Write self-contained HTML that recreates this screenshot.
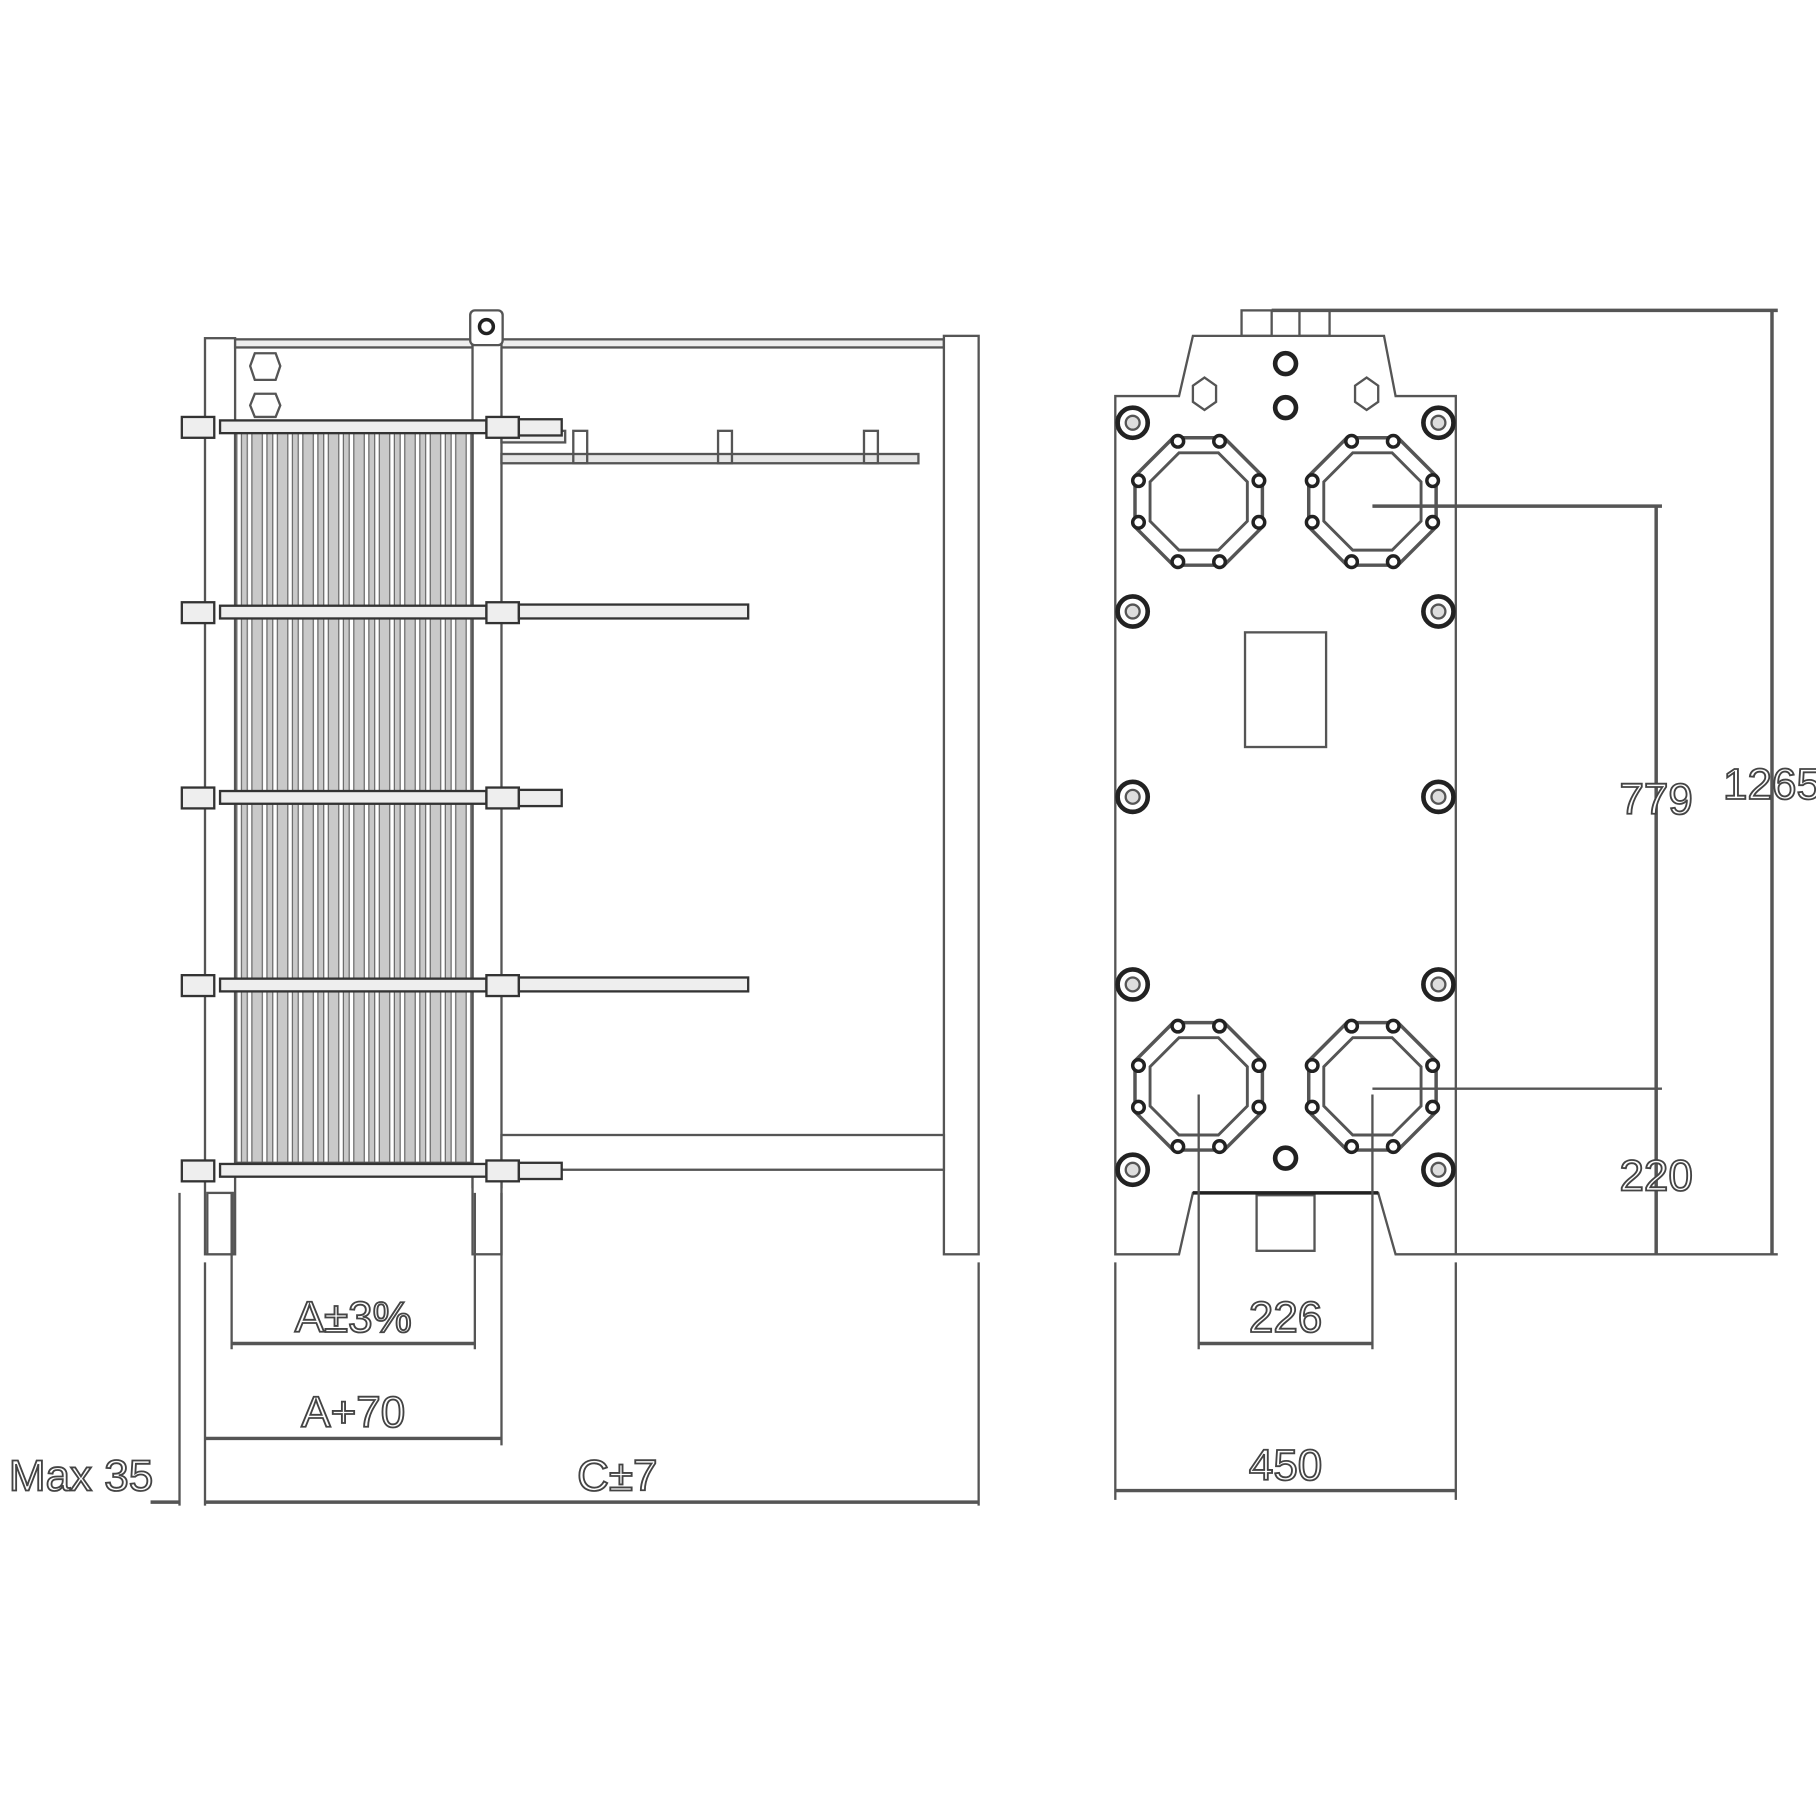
<!DOCTYPE html>
<html><head><meta charset="utf-8"><style>html,body{margin:0;padding:0;background:#fff}svg{display:block}text{font-family:"Liberation Sans",sans-serif;fill:#fff;stroke:#444;stroke-width:1.6}</style></head><body>
<svg width="1816" height="1816" viewBox="0 0 1568 1568" xmlns="http://www.w3.org/2000/svg">
<defs>
<pattern id="pl" x="203" y="0" width="22" height="10" patternUnits="userSpaceOnUse">
<rect width="22" height="10" fill="#c9c9c9"/><rect x="2" width="3" height="10" fill="#fff"/><line x1="1.5" y1="0" x2="1.5" y2="10" stroke="#666" stroke-width="1"/><line x1="5.5" y1="0" x2="5.5" y2="10" stroke="#666" stroke-width="1"/><rect x="11" width="3" height="10" fill="#fff"/><line x1="10.5" y1="0" x2="10.5" y2="10" stroke="#666"/><line x1="14.5" y1="0" x2="14.5" y2="10" stroke="#666"/>
</pattern>
<g id="bolt"><circle r="13" fill="#fff" stroke="#222" stroke-width="4"/><circle r="6" fill="#ddd" stroke="#555" stroke-width="2"/></g>
<g id="port" fill="none" stroke="#555" stroke-width="3">
<polygon points="-22,-55 22,-55 55,-22 55,22 22,55 -22,55 -55,22 -55,-22"/>
<polygon points="-17,-42 17,-42 42,-17 42,17 17,42 -17,42 -42,17 -42,-17" stroke-width="2.5"/>
<g fill="#fff" stroke="#222" stroke-width="3"><circle cx="-18" cy="-52" r="5"/><circle cx="18" cy="-52" r="5"/><circle cx="-18" cy="52" r="5"/><circle cx="18" cy="52" r="5"/><circle cx="-52" cy="-18" r="5"/><circle cx="-52" cy="18" r="5"/><circle cx="52" cy="-18" r="5"/><circle cx="52" cy="18" r="5"/></g>
</g>
</defs>
<g fill="none" stroke="#555" stroke-width="2">
<!-- left view frame -->
<rect x="430" y="293" width="385" height="7" fill="#eee"/>
<rect x="177" y="292" width="26" height="791" fill="#fff"/>
<rect x="203" y="293" width="205" height="7" fill="#eee"/>
<rect x="408" y="290" width="25" height="735" fill="#fff"/>
<rect x="406" y="268" width="28" height="30" rx="4" fill="#fff"/>
<circle cx="420" cy="282" r="6" stroke="#222" stroke-width="3"/>
<rect x="815" y="290" width="30" height="793" fill="#fff"/>
<rect x="408" y="1010" width="25" height="73" fill="#fff"/>
<polygon points="220,305 238,305 242,316 238,328 220,328 216,316" />
<polygon points="220,340 238,340 242,350 238,360 220,360 216,350" />
<!-- plate pack -->
<rect x="203" y="372" width="205" height="632" fill="url(#pl)" stroke="#555"/>
<!-- guide bars -->
<rect x="433" y="372" width="55" height="10" fill="#eee"/>
<rect x="433" y="392" width="360" height="8" fill="#e6e6e6"/>
<rect x="495" y="372" width="12" height="28"/><rect x="620" y="372" width="12" height="28"/><rect x="746" y="372" width="12" height="28"/>
<rect x="433" y="980" width="382" height="30" fill="#fff"/>
<!-- tie rods -->
<g fill="#eee" stroke="#333" stroke-width="2">
<rect x="190" y="363" width="230" height="11"/><rect x="157" y="360" width="28" height="18"/><rect x="420" y="360" width="28" height="18"/><rect x="448" y="362" width="37" height="14"/>
<rect x="190" y="523" width="230" height="11"/><rect x="157" y="520" width="28" height="18"/><rect x="420" y="520" width="28" height="18"/><rect x="448" y="522" width="198" height="12"/>
<rect x="190" y="683" width="230" height="11"/><rect x="157" y="680" width="28" height="18"/><rect x="420" y="680" width="28" height="18"/><rect x="448" y="682" width="37" height="14"/>
<rect x="190" y="845" width="230" height="11"/><rect x="157" y="842" width="28" height="18"/><rect x="420" y="842" width="28" height="18"/><rect x="448" y="844" width="198" height="12"/>
<rect x="190" y="1005" width="230" height="11"/><rect x="157" y="1002" width="28" height="18"/><rect x="420" y="1002" width="28" height="18"/><rect x="448" y="1004" width="37" height="14"/>
</g>
<rect x="179" y="1030" width="22" height="53" fill="#fff"/>
<!-- left dims -->
<line x1="200" y1="1030" x2="200" y2="1165"/><line x1="410" y1="1030" x2="410" y2="1165"/>
<line x1="200" y1="1160" x2="410" y2="1160" stroke-width="3"/>
<line x1="177" y1="1090" x2="177" y2="1300"/><line x1="433" y1="1030" x2="433" y2="1248"/>
<line x1="177" y1="1242" x2="433" y2="1242" stroke-width="3"/>
<line x1="155" y1="1030" x2="155" y2="1300"/><line x1="845" y1="1090" x2="845" y2="1300"/>
<line x1="177" y1="1297" x2="845" y2="1297" stroke-width="3"/>
<line x1="130" y1="1297" x2="155" y2="1297" stroke-width="3"/>
<!-- right view -->
<path d="M963,342 H1018 L1030,290 H1195 L1205,342 H1257 V1083 H1205 L1190,1030 H1030 L1018,1083 H963 Z" fill="#fff"/>
<rect x="1072" y="268" width="26" height="22"/><rect x="1122" y="268" width="26" height="22"/>
<line x1="1098" y1="268" x2="1535" y2="268" stroke-width="3"/>
<circle cx="1110" cy="314" r="9" stroke="#222" stroke-width="4"/><circle cx="1110" cy="352" r="9" stroke="#222" stroke-width="4"/>
<circle cx="1110" cy="1000" r="9" stroke="#222" stroke-width="4"/>
<polygon points="1030,333 1040,326 1050,333 1050,347 1040,354 1030,347"/>
<polygon points="1170,333 1180,326 1190,333 1190,347 1180,354 1170,347"/>
<rect x="1075" y="546" width="70" height="99"/>
<rect x="1085" y="1032" width="50" height="48"/>
<line x1="1030" y1="1030" x2="1190" y2="1030" stroke="#222" stroke-width="3"/>
<use href="#port" x="1035" y="433"/><use href="#port" x="1185" y="433"/>
<use href="#port" x="1035" y="938"/><use href="#port" x="1185" y="938"/>
<g><use href="#bolt" x="978" y="365"/><use href="#bolt" x="1242" y="365"/><use href="#bolt" x="978" y="528"/><use href="#bolt" x="1242" y="528"/><use href="#bolt" x="978" y="688"/><use href="#bolt" x="1242" y="688"/><use href="#bolt" x="978" y="850"/><use href="#bolt" x="1242" y="850"/><use href="#bolt" x="978" y="1010"/><use href="#bolt" x="1242" y="1010"/></g>
<!-- right dims -->
<line x1="1530" y1="268" x2="1530" y2="1083" stroke-width="3"/>
<line x1="1185" y1="437" x2="1435" y2="437" stroke-width="3"/>
<line x1="1430" y1="437" x2="1430" y2="1083" stroke-width="3"/>
<line x1="1185" y1="940" x2="1435" y2="940"/>
<line x1="1257" y1="1083" x2="1535" y2="1083"/>
<line x1="1035" y1="945" x2="1035" y2="1165"/><line x1="1185" y1="945" x2="1185" y2="1165"/>
<line x1="1035" y1="1160" x2="1185" y2="1160" stroke-width="3"/>
<line x1="963" y1="1090" x2="963" y2="1295"/><line x1="1257" y1="1090" x2="1257" y2="1295"/>
<line x1="963" y1="1287" x2="1257" y2="1287" stroke-width="3"/>
</g>
<g font-size="38">
<text x="305" y="1150" text-anchor="middle">A±3%</text>
<text x="305" y="1232" text-anchor="middle">A+70</text>
<text x="533" y="1287" text-anchor="middle">C±7</text>
<text x="70" y="1287" text-anchor="middle">Max 35</text>
<text x="1110" y="1150" text-anchor="middle">226</text>
<text x="1110" y="1278" text-anchor="middle">450</text>
<text x="1430" y="703" text-anchor="middle" fill="#fff">779</text>
<text x="1430" y="1028" text-anchor="middle">220</text>
<text x="1530" y="690" text-anchor="middle">1265</text>
</g>
</svg>
</body></html>
